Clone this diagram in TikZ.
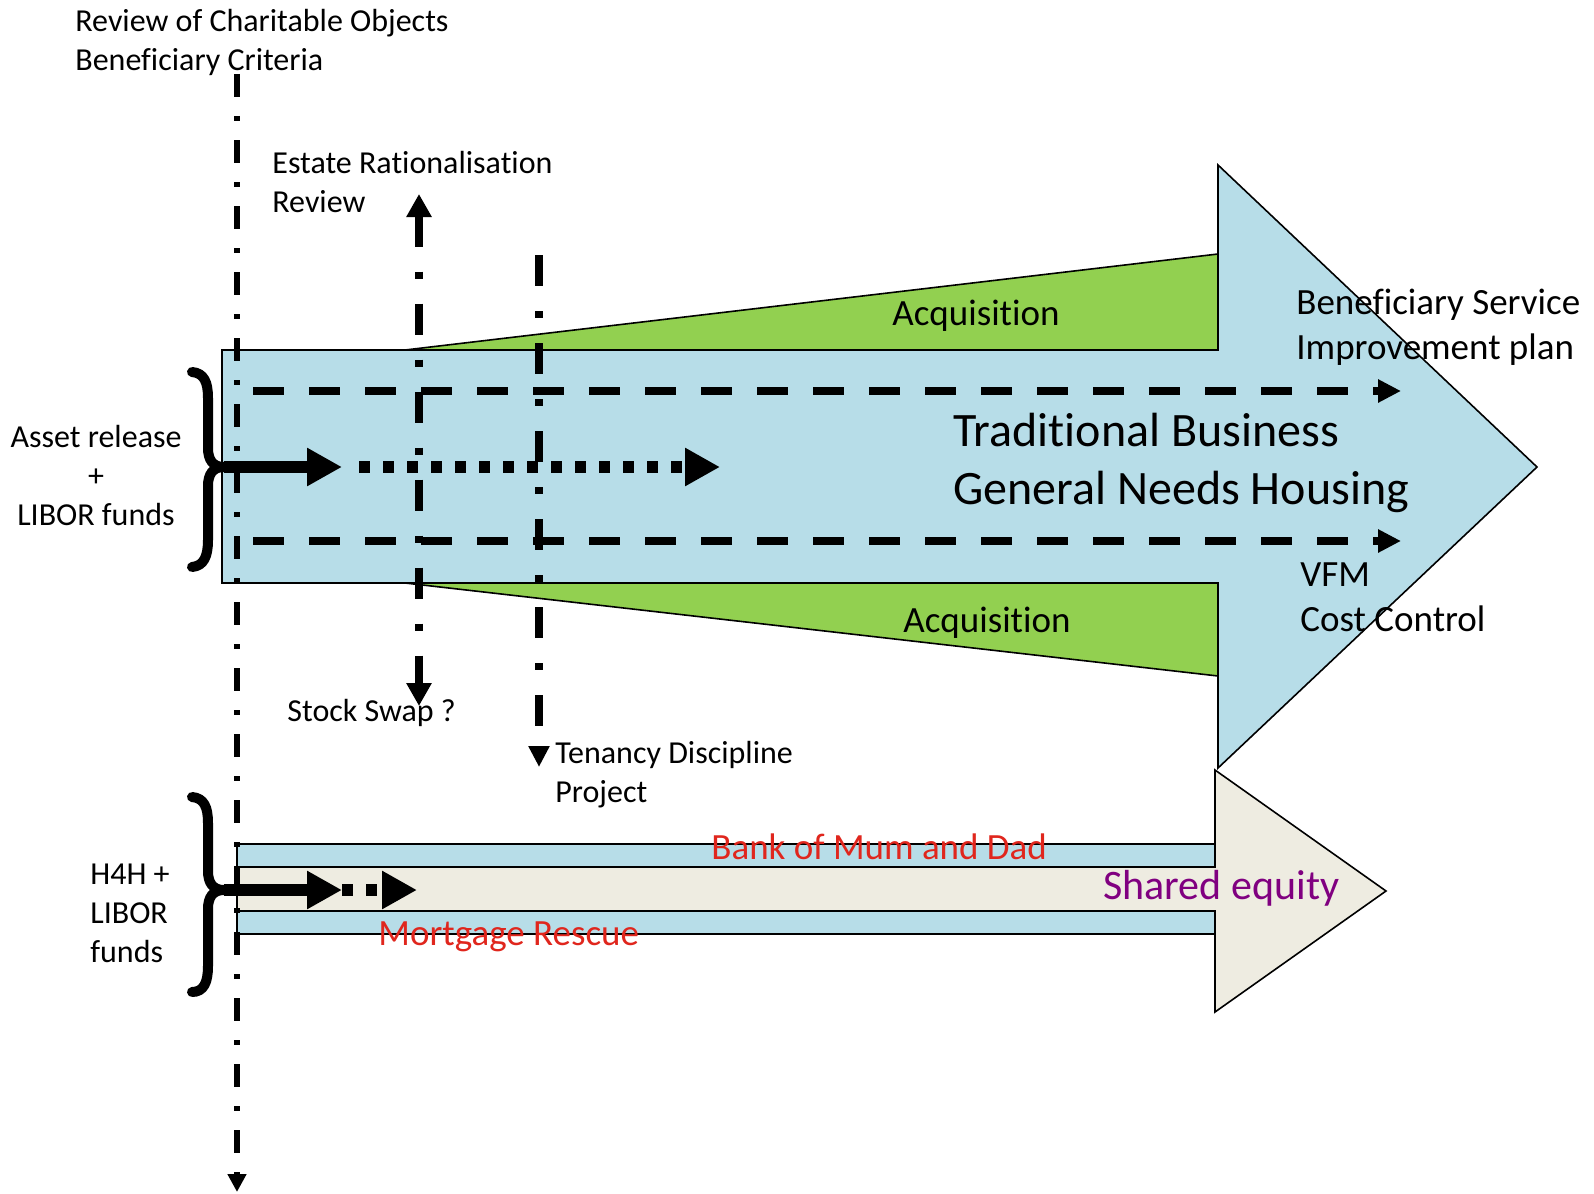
\documentclass[tikz,border=0pt]{standalone}
\usepackage{fontspec}
\setmainfont{Carlito}[RawFeature={-liga;-clig;-calt;-dlig}]
\usetikzlibrary{arrows.meta}
\definecolor{aqua}{HTML}{B7DDE8}
\definecolor{leaf}{HTML}{92D050}
\definecolor{parch}{HTML}{EEECE1}
\definecolor{redtxt}{HTML}{E0261D}
\definecolor{purp}{HTML}{800080}
\begin{document}
\begin{tikzpicture}[x=0.5pt,y=-0.5pt,
  outl/.style={draw=black, line width=0.8pt, line join=miter},
  txt/.style={inner sep=0pt, font=\fontsize{16}{19.5}\selectfont, align=left, anchor=west},
  txtm/.style={inner sep=0pt, font=\fontsize{18.5}{22.6}\selectfont, align=left, anchor=west},
  txtl/.style={inner sep=0pt, font=\fontsize{24}{29.3}\selectfont, align=left, anchor=west},
  txtxl/.style={inner sep=0pt, font=\fontsize{21}{25.6}\selectfont, align=left, anchor=west},
  axisline/.style={line width=3pt, dash pattern=on 11.5pt off 9.5pt on 2.5pt off 9.5pt, -{Triangle[length=9pt,width=9pt]}},
  reviewline/.style={line width=4pt, dash pattern=on 15.5pt off 12.5pt on 3.5pt off 12.5pt},
  flowdash/.style={line width=4pt, dash pattern=on 15.5pt off 12.5pt, -{Triangle[length=11.5pt,width=11pt]}},
  fatarrow/.style={line width=6pt, -{Triangle[length=17.5pt,width=18pt]}},
  fatdots/.style={line width=6pt, dash pattern=on 5.5pt off 6.5pt, -{Triangle[length=17.5pt,width=18pt]}},
  bracepath/.style={line width=5pt, line cap=round, line join=round},
]
\useasboundingbox (0,0) rectangle (1594,1193);
\fill[white] (0,0) rectangle (1594,1193);

% main arrow
\path[outl, fill=aqua] (222,350) -- (1218,350) -- (1218,165) -- (1537,467) -- (1218,768) -- (1218,583) -- (222,583) -- cycle;
\path[outl, fill=leaf] (405,350) -- (1218,254) -- (1218,350) -- cycle;
\path[outl, fill=leaf] (405,583) -- (1218,676) -- (1218,583) -- cycle;

% lower arrow
\path[outl, fill=parch] (237,867) -- (1215,867) -- (1215,770) -- (1386,891) -- (1215,1012) -- (1215,911) -- (237,911) -- cycle;
\path[outl, fill=aqua] (237,844) rectangle (1215,867);
\path[outl, fill=aqua] (237,911) rectangle (1215,934);

% coordinates
\coordinate (v1top) at (237,74);
\coordinate (v1bot) at (237,1192);
\coordinate (v2top) at (419,194);
\coordinate (v2bot) at (419,706);
\coordinate (v3top) at (539,255);
\coordinate (v3bot) at (539,767);
\coordinate (dA1) at (253,391);
\coordinate (dA2) at (1401,391);
\coordinate (dB1) at (253,541);
\coordinate (dB2) at (1401,541);
\coordinate (brA) at (224,467);
\coordinate (solA) at (342,467);
\coordinate (dotA1) at (359,467);
\coordinate (dotA2) at (720,467);
\coordinate (brB) at (224,890);
\coordinate (solB) at (342,890);
\coordinate (dotB2) at (417,890);

% vertical lines
\draw[axisline] (v1top) -- (v1bot);
\draw[reviewline, {Triangle[length=11.5pt,width=12pt]}-{Triangle[length=11.5pt,width=12pt]}] (v2top) -- (v2bot);
\draw[reviewline, -{Triangle[length=10.5pt,width=10pt]}] (v3top) -- (v3bot);

% horizontal dashed
\draw[flowdash] (dA1) -- (dA2);
\draw[flowdash] (dB1) -- (dB2);

% braces
\draw[bracepath] (192,372) .. controls (204,373) and (208,382) .. (208,398) -- (208,448) .. controls (208,460) and (213,467) .. (brA) .. controls (213,467) and (208,474) .. (208,486) -- (208,540) .. controls (208,556) and (204,566) .. (192,567);
\draw[bracepath] (192,797) .. controls (204,798) and (208,807) .. (208,823) -- (208,871) .. controls (208,883) and (213,890) .. (brB) .. controls (213,890) and (208,897) .. (208,909) -- (208,966) .. controls (208,982) and (204,992) .. (192,992);

% fat arrows
\draw[fatarrow] (brA) -- (solA);
\draw[fatdots] (dotA1) -- (dotA2);
\draw[fatarrow] (brB) -- (solB);
\draw[fatdots] (solB) -- (dotB2);

% texts
\node[txt] (review) at (75,42) {Review of Charitable Objects\\Beneficiary Criteria};
\node[txt] (estate) at (272,182) {Estate Rationalisation\\Review};
\node[txtm, anchor=center] (acqtop) at (976,316) {Acquisition};
\node[txtm] (bensvc) at (1296,327) {Beneficiary Service\\Improvement plan};
\node[txtl] (trad) at (953,463) {Traditional Business\\General Needs Housing};
\node[txt, align=center, anchor=center] (asset) at (96,476) {Asset release\\+\\LIBOR funds};
\node[txtm] (vfm) at (1300,597) {VFM\\Cost Control};
\node[txtm, anchor=center] (acqbot) at (987,623) {Acquisition};
\node[txt] (swap) at (287,713) {Stock Swap ?};
\node[txt] (tenancy) at (555,775) {Tenancy Discipline\\Project};
\node[txtm, text=redtxt] (bank) at (711,847) {Bank of Mum and Dad};
\node[txtxl, text=purp] (shared) at (1103,888) {Shared equity};
\node[txtm, text=redtxt] (mortgage) at (378,937) {Mortgage Rescue};
\node[txt] (h4h) at (90,913) {H4H +\\LIBOR\\funds};
\end{tikzpicture}
\end{document}
